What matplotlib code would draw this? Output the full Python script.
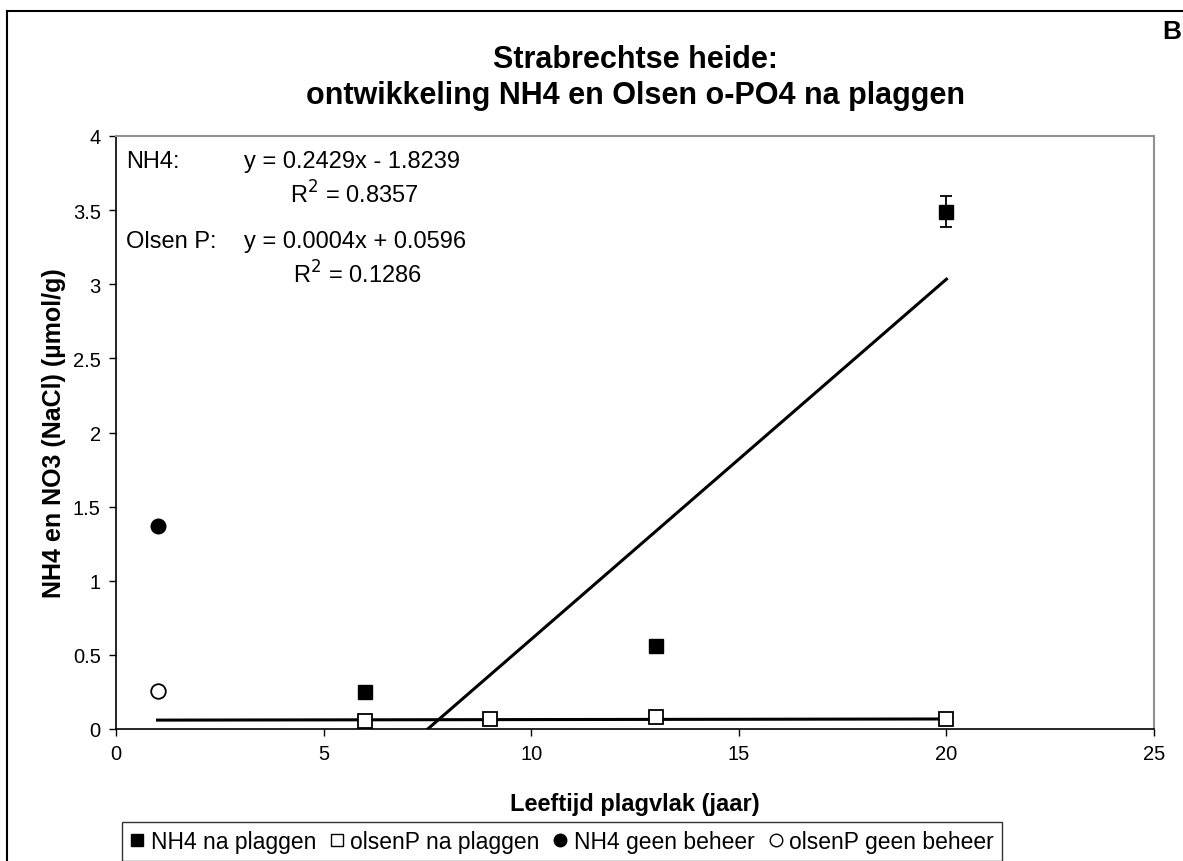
import matplotlib
matplotlib.use("Agg")
import matplotlib.pyplot as plt
from matplotlib.lines import Line2D
import numpy as np

plt.rcParams['font.family'] = ['Liberation Sans', 'DejaVu Sans']

# Data
x_nh4_plag = [6, 13, 20]
y_nh4_plag = [0.25, 0.56, 3.49]
err_nh4_plag = [0.0, 0.0, 0.105]
x_olsen_plag = [6, 9, 13, 20]
y_olsen_plag = [0.055, 0.07, 0.08, 0.07]
x_nh4_geen = [1]
y_nh4_geen = [1.37]
x_olsen_geen = [1]
y_olsen_geen = [0.255]

# Trend line coefficients (from the chart annotation)
nh4_slope, nh4_icpt = 0.2429, -1.8239
olsen_slope, olsen_icpt = 0.0004, 0.0596

x_ticks = [0, 5, 10, 15, 20, 25]
y_ticks = [0, 0.5, 1, 1.5, 2, 2.5, 3, 3.5, 4]

W, H = 1183, 862
fig = plt.figure(figsize=(W / 100, H / 100), dpi=100)
ax = fig.add_axes([116 / W, 1 - 730 / H, (1154 - 116) / W, (730 - 137) / H])

# trend lines
x0 = -nh4_icpt / nh4_slope
xs = np.array([x0, 20])
ax.plot(xs, nh4_slope * xs + nh4_icpt, color='black', lw=2.2, zorder=2)
xs2 = np.array([1, 20])
ax.plot(xs2, olsen_slope * xs2 + olsen_icpt, color='black', lw=2.2, zorder=2)

ms = 10.5
ax.errorbar(x_nh4_plag, y_nh4_plag, yerr=err_nh4_plag, fmt='s', color='black',
            ms=ms, capsize=4.5, elinewidth=1.3, capthick=1.3, zorder=3)
ax.plot(x_olsen_plag, y_olsen_plag, 's', ms=ms, mfc='white', mec='black', mew=1.3, zorder=3)
ax.plot(x_nh4_geen, y_nh4_geen, 'o', ms=ms, color='black', zorder=3)
ax.plot(x_olsen_geen, y_olsen_geen, 'o', ms=ms, mfc='white', mec='black', mew=1.3, zorder=3)

ax.set_xlim(0, 25)
ax.set_ylim(0, 4)
ax.set_xticks(x_ticks)
ax.set_yticks(y_ticks)
ax.set_xticklabels([str(v) for v in x_ticks])
ax.set_yticklabels(['0', '0.5', '1', '1.5', '2', '2.5', '3', '3.5', '4'])
ax.tick_params(direction='out', length=5, width=1, labelsize=14.5, pad=6)
for s in ['left', 'bottom']:
    ax.spines[s].set_color('black')
    ax.spines[s].set_linewidth(1.2)
for s in ['top', 'right']:
    ax.spines[s].set_color('#909090')
    ax.spines[s].set_linewidth(1.5)

ax.set_xlabel('Leeftijd plagvlak (jaar)', fontsize=17, fontweight='bold', labelpad=21)
ax.set_ylabel('NH4 en NO3 (NaCl) (µmol/g)', fontsize=18, fontweight='bold', labelpad=5)

# annotations
def px2ax(px, py):
    return (px - 116) / (1154 - 116), (730 - py) / (730 - 137)

ann = dict(fontsize=17, va='center', ha='left', transform=ax.transAxes)
ax.text(*px2ax(126, 162), 'NH4:', **ann)
ax.text(*px2ax(244, 162), 'y = 0.2429x - 1.8239', **ann)
ax.text(*px2ax(290, 195), 'R$^2$ = 0.8357', **ann)
ax.text(*px2ax(126, 242), 'Olsen P:', **ann)
ax.text(*px2ax(244, 242), 'y = 0.0004x + 0.0596', **ann)
ax.text(*px2ax(293, 275), 'R$^2$ = 0.1286', **ann)

# title
fig.text(635 / W, 1 - 78 / H, 'Strabrechtse heide:\nontwikkeling NH4 en Olsen o-PO4 na plaggen',
         ha='center', va='center', fontsize=22, fontweight='bold', linespacing=1.3)
fig.text(1172 / W, 1 - 32 / H, 'B', ha='center', va='center', fontsize=19, fontweight='bold')

# outer frame
fig.add_artist(Line2D([7 / W, 7 / W], [0, 1 - 12 / H], color='black', lw=1.5, transform=fig.transFigure))
fig.add_artist(Line2D([7 / W, 1], [1 - 12 / H, 1 - 12 / H], color='black', lw=1.5, transform=fig.transFigure))

# legend
handles = [
    Line2D([], [], marker='s', ls='none', color='black', ms=9),
    Line2D([], [], marker='s', ls='none', mfc='white', mec='black', mew=1, ms=9),
    Line2D([], [], marker='o', ls='none', color='black', ms=9),
    Line2D([], [], marker='o', ls='none', mfc='white', mec='black', mew=1, ms=9),
]
labels = ['NH4 na plaggen', 'olsenP na plaggen', 'NH4 geen beheer', 'olsenP geen beheer']
leg = fig.legend(handles, labels, loc='upper left', bbox_to_anchor=(122 / W, 1 - 823 / H),
                 ncol=4, fontsize=16.5, frameon=True, fancybox=False, edgecolor='black',
                 handlelength=0.6, handletextpad=0.3, columnspacing=0.6, borderpad=0.35,
                 borderaxespad=0)
leg.get_frame().set_linewidth(1.0)

fig.savefig('out.png', dpi=100)
